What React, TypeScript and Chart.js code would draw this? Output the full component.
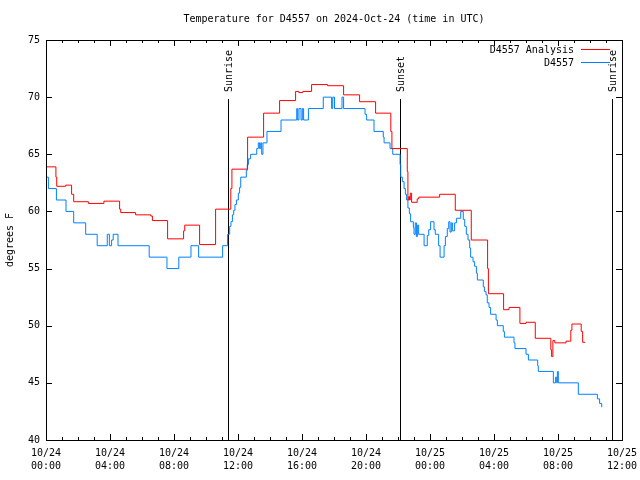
import { useEffect, useRef } from 'react';
import { Chart, registerables } from 'chart.js';

Chart.register(...registerables);

const FONT = '"DejaVu Sans Mono", "Liberation Mono", monospace';

const TITLE = 'Temperature for D4557 on 2024-Oct-24 (time in UTC)';
const Y_LABEL = 'degrees F';

// hours since 2024-10-24 00:00 UTC
const xTickLabels = [
  ['10/24', '00:00'], ['10/24', '04:00'], ['10/24', '08:00'], ['10/24', '12:00'],
  ['10/24', '16:00'], ['10/24', '20:00'], ['10/25', '00:00'], ['10/25', '04:00'],
  ['10/25', '08:00'], ['10/25', '12:00'],
];

const analysisLabel = 'D4557 Analysis';
const analysisHours = [
  0, 0.62, 0.67, 1.23, 1.6, 1.73, 2.65, 3.62, 4.6, 4.67, 5.6, 6.55, 6.65, 7.6, 8.6, 8.67,
  9.6, 10.6, 11.55, 11.62, 12.6, 13.6, 14.6, 15.6, 15.8, 16.05, 16.6, 17.6, 18.6, 19.6,
  20.6, 21.55, 21.62, 22.58, 22.62, 22.67, 22.72, 22.77, 22.85, 23.2, 23.3, 24.6, 25.58,
  26.58, 27.6, 27.65, 28.6, 28.94, 29.62, 30.0, 30.58, 31.55, 31.6, 31.68, 31.8, 32.5,
  32.8, 32.87, 33.45, 33.54, 33.7,
];
const analysisTemps = [
  63.9, 63.0, 62.2, 62.3, 61.5, 60.85, 60.7, 60.9, 60.2, 59.9, 59.7, 59.6, 59.2, 57.6, 58.3, 58.8,
  57.1, 60.2, 62.0, 63.7, 66.5, 68.6, 69.7, 70.5, 70.4, 70.5, 71.1, 71.0, 70.2, 69.6,
  68.6, 67.0, 65.5, 63.5, 61.0, 61.3, 61.0, 61.6, 60.8, 61.1, 61.25, 61.5, 60.1,
  57.5, 55.0, 52.8, 51.4, 51.6, 50.2, 50.3, 48.9, 47.9, 47.3, 48.7, 48.5, 48.65,
  49.6, 50.15, 49.5, 48.55, 48.55,
];

const obsLabel = 'D4557';
const obsHours = [
  0, 0.15, 0.65, 1.25, 1.73, 2.48, 3.2, 3.83, 3.96, 4.1, 4.2, 4.5, 6.45, 7.56, 8.3, 9.06,
  9.54, 11.04, 11.35, 11.48, 11.56, 11.65, 11.73, 11.81, 11.9, 12.02, 12.1, 12.17, 12.52,
  12.58, 12.65, 12.79, 13.17, 13.27, 13.35, 13.42, 13.48, 13.56, 13.81, 14.69, 15.67,
  15.73, 15.81, 15.94, 16.02, 16.1, 16.4, 17.33, 17.85, 17.92, 18.03, 18.5, 18.6, 19.94,
  20.04, 20.5, 21.08, 21.13, 21.5, 21.67, 22.13, 22.17, 22.27, 22.38, 22.46, 22.54, 22.62,
  22.71, 22.79, 22.96, 23.0, 23.08, 23.15, 23.21, 23.29, 23.63, 23.83, 23.92, 24.04, 24.25,
  24.33, 24.54, 24.63, 24.88, 24.96, 25.08, 25.17, 25.25, 25.33, 25.4, 25.54, 25.65, 25.92,
  26.08, 26.17, 26.27, 26.375, 26.48, 26.54, 26.69, 26.79, 26.9, 26.96, 27.33, 27.4, 27.5,
  27.58, 27.69, 27.79, 28.13, 28.21, 28.58, 28.65, 29.25, 29.31, 30.0, 30.15, 30.73, 30.77,
  31.71, 31.85, 31.92, 31.96, 32.02, 33.27, 34.46, 34.6, 34.73, 34.76,
];
const obsTemps = [
  63, 62, 61, 60, 59, 58, 57, 58, 57, 57.5, 58, 57, 56, 55, 56, 57,
  56, 57, 58, 58.7, 59.1, 59.7, 60.1, 60.6, 61, 61.6, 62.1, 63, 63.6,
  64.1, 64.6, 65, 65.5, 66, 65.5, 66, 65, 66, 67, 68, 69,
  68, 69, 68, 69, 68, 69, 70, 69, 70, 69, 70, 69, 68.5,
  68, 67, 66.5, 66, 65.5, 65, 64.1, 63, 62.6, 62, 61.5, 61, 60.3,
  59.8, 59.1, 58.6, 58, 59, 57.8, 58.8, 58, 57, 57.9, 58.4, 59.1, 58.4,
  58, 57, 56, 57, 57.8, 58.5, 59.1, 58.2, 59, 58.3, 59, 59.4, 60,
  59.3, 58.7, 58, 57.5, 56.8, 56, 55.6, 55.2, 54.6, 54, 53.4, 53, 52.7,
  52, 51.6, 51, 50.5, 50, 49.5, 49, 48.5, 48, 47.5, 47, 46.5, 46,
  45, 45.5, 45, 46, 45, 44, 43.6, 43.2, 42.9, 42.9,
];

const sunLabels = ['Sunrise', 'Sunset', 'Sunrise'];
const sunHours = [11.4, 22.15, 35.4];

const overlay = {
  id: 'overlay',
  beforeDatasetsDraw(chart: any) {
    const { ctx, chartArea } = chart;
    const xs = chart.scales.x;
    ctx.save();
    ctx.strokeStyle = '#000';
    ctx.lineWidth = 1;
    ctx.fillStyle = '#000';
    ctx.font = `10px ${FONT}`;
    sunHours.forEach((h, i) => {
      const px = Math.round(xs.getPixelForValue(h)) + 0.5;
      ctx.beginPath();
      ctx.moveTo(px, 99);
      ctx.lineTo(px, chartArea.bottom);
      ctx.stroke();
      ctx.save();
      ctx.translate(px + 1, 92);
      ctx.rotate(-Math.PI / 2);
      ctx.textAlign = 'left';
      ctx.textBaseline = 'middle';
      ctx.fillText(sunLabels[i], 0, 0);
      ctx.restore();
    });
    ctx.restore();
  },
  afterDraw(chart: any) {
    const { ctx, chartArea } = chart;
    const xs = chart.scales.x;
    const ys = chart.scales.y;
    const L = chartArea.left, R = chartArea.right, T = chartArea.top, B = chartArea.bottom;
    ctx.save();
    ctx.strokeStyle = '#000';
    ctx.fillStyle = '#000';
    ctx.lineWidth = 1;
    ctx.strokeRect(Math.round(L) + 0.5, Math.round(T) + 0.5, Math.round(R - L), Math.round(B - T));
    ctx.beginPath();
    for (let h = 0; h <= 36; h += 1) {
      const px = Math.round(xs.getPixelForValue(h)) + 0.5;
      const len = h % 4 === 0 ? 6 : 3;
      ctx.moveTo(px, B); ctx.lineTo(px, B - len);
      ctx.moveTo(px, T); ctx.lineTo(px, T + len);
    }
    for (let v = 40; v <= 75; v += 5) {
      const py = Math.round(ys.getPixelForValue(v)) + 0.5;
      ctx.moveTo(L, py); ctx.lineTo(L + 6, py);
      ctx.moveTo(R, py); ctx.lineTo(R - 6, py);
    }
    ctx.stroke();

    ctx.font = `10px ${FONT}`;
    ctx.textAlign = 'center';
    ctx.textBaseline = 'middle';
    ctx.fillText(TITLE, (L + R) / 2, 19.5);

    ctx.save();
    ctx.translate(10, (T + B) / 2);
    ctx.rotate(-Math.PI / 2);
    ctx.fillText(Y_LABEL, 0, 0);
    ctx.restore();

    ctx.textAlign = 'right';
    ctx.fillText(analysisLabel, 574, 50);
    ctx.fillText(obsLabel, 574, 63);
    ctx.beginPath();
    ctx.strokeStyle = '#ff0000';
    ctx.moveTo(581, 49.5); ctx.lineTo(610, 49.5);
    ctx.stroke();
    ctx.beginPath();
    ctx.strokeStyle = '#0080ff';
    ctx.moveTo(581, 62.5); ctx.lineTo(610, 62.5);
    ctx.stroke();
    ctx.restore();
  },
};

export default function App() {
  const ref = useRef<HTMLCanvasElement | null>(null);
  useEffect(() => {
    const canvas = ref.current;
    if (!canvas) return;
    const font = { family: FONT, size: 10 };
    const chart = new Chart(canvas, {
      type: 'line',
      data: {
        datasets: [
          {
            label: analysisLabel,
            data: analysisHours.map((h, i) => ({ x: h, y: analysisTemps[i] })),
            borderColor: '#ff0000',
            borderWidth: 1,
            pointRadius: 0,
            stepped: true,
            fill: false,
          },
          {
            label: obsLabel,
            data: obsHours.map((h, i) => ({ x: h, y: obsTemps[i] })),
            borderColor: '#0080ff',
            borderWidth: 1,
            pointRadius: 0,
            stepped: true,
            fill: false,
          },
        ],
      },
      options: {
        animation: false,
        responsive: false,
        devicePixelRatio: 1,
        layout: { padding: { top: 40, right: 18, left: 0, bottom: 0 } },
        plugins: {
          legend: { display: false },
          title: { display: false },
          tooltip: { enabled: false },
        },
        scales: {
          x: {
            type: 'linear',
            min: 0,
            max: 36,
            grid: { display: false, drawTicks: false },
            border: { display: false },
            ticks: {
              stepSize: 4,
              autoSkip: false,
              maxRotation: 0,
              padding: 7,
              color: '#000',
              font: { ...font, lineHeight: 1.3 },
              callback: (v: any) => xTickLabels[Math.round(Number(v) / 4)] as any,
            },
            afterFit: (s: any) => { s.height = 40; s.paddingLeft = 0; s.paddingRight = 0; },
          },
          y: {
            type: 'linear',
            min: 40,
            max: 75,
            grid: { display: false, drawTicks: false },
            border: { display: false },
            ticks: { stepSize: 5, padding: 6, color: '#000', font },
            afterFit: (s: any) => { s.width = 46; s.paddingTop = 0; s.paddingBottom = 0; },
          },
        },
      } as any,
      plugins: [overlay],
    });
    return () => chart.destroy();
  }, []);
  return (
    <div style={{ position: 'fixed', left: 0, top: 0, width: 640, height: 480, background: '#fff' }}>
      <canvas ref={ref} width={640} height={480} style={{ display: 'block', width: 640, height: 480 }} />
    </div>
  );
}
